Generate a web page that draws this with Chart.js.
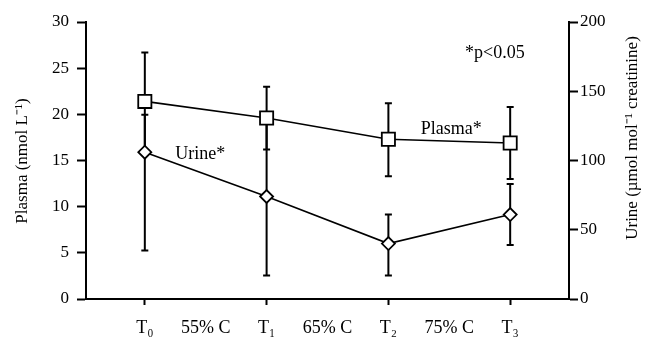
<!DOCTYPE html>
<html>
<head>
<meta charset="utf-8">
<script src="https://cdn.jsdelivr.net/npm/chart.js@4"></script>
<style>
  body { margin: 0; background: #fff; }
  canvas { display: block; }
</style>
</head>
<body>
<canvas id="chart" width="654" height="341"></canvas>
<script>
// valeurs
const timePoints = [0, 1, 2, 3];
const xTickLabels = ["T₀", "55% C", "T₁", "65% C", "T₂", "75% C", "T₃"];

const plasma = [21.4, 19.6, 17.3, 16.9];
const plasmaUpper = [26.7, 23.0, 21.2, 20.8];
const plasmaLower = [16.1, 16.2, 13.3, 13.0];

const urine = [106, 74, 40, 61];
const urineUpper = [133, 131, 61, 83];
const urineLower = [35, 17, 17, 39];

const serif = "'Liberation Serif', 'Times New Roman', serif";

const errorBars = {
  id: "errorBars",
  beforeDatasetsDraw(chart) {
    const ctx = chart.ctx;
    const x = chart.scales.x;
    const sets = [
      { axis: chart.scales.y, hi: plasmaUpper, lo: plasmaLower },
      { axis: chart.scales.y1, hi: urineUpper, lo: urineLower },
    ];
    ctx.save();
    ctx.strokeStyle = "#000";
    ctx.lineWidth = 2;
    sets.forEach((s) => {
      timePoints.forEach((t, i) => {
        const px = x.getPixelForValue(t);
        const top = s.axis.getPixelForValue(s.hi[i]);
        const bot = s.axis.getPixelForValue(s.lo[i]);
        ctx.beginPath();
        ctx.moveTo(px, top);
        ctx.lineTo(px, bot);
        ctx.moveTo(px - 3.5, top);
        ctx.lineTo(px + 3.5, top);
        ctx.moveTo(px - 3.5, bot);
        ctx.lineTo(px + 3.5, bot);
        ctx.stroke();
      });
    });
    ctx.restore();
  },
};

const textLayer = {
  id: "textLayer",
  afterDraw(chart) {
    const ctx = chart.ctx;
    const { x, y, y1 } = chart.scales;
    ctx.save();
    ctx.fillStyle = "#000";
    ctx.textBaseline = "middle";

    // titres des axes
    ctx.font = "17px " + serif;
    ctx.textAlign = "center";
    ctx.save();
    ctx.translate(23, 161);
    ctx.rotate(-Math.PI / 2);
    ctx.fillText("Plasma (nmol L⁻¹)", 0, 0);
    ctx.restore();
    ctx.save();
    ctx.translate(633, 138);
    ctx.rotate(-Math.PI / 2);
    ctx.fillText("Urine (µmol mol⁻¹ creatinine)", 0, 0);
    ctx.restore();

    // annotations
    ctx.font = "18px " + serif;
    ctx.textAlign = "left";
    ctx.fillText("Urine*", x.getPixelForValue(0.25), y1.getPixelForValue(104.7));
    ctx.fillText("Plasma*", x.getPixelForValue(2.265), y.getPixelForValue(18.4));
    ctx.fillText("*p<0.05", x.getPixelForValue(2.63), y.getPixelForValue(26.6));
    ctx.restore();
  },
};

new Chart(document.getElementById("chart"), {
  type: "line",
  data: {
    datasets: [
      {
        label: "Plasma",
        data: timePoints.map((t, i) => ({ x: t, y: plasma[i] })),
        yAxisID: "y",
        borderColor: "#000",
        borderWidth: 1.6,
        pointStyle: "rect",
        pointRadius: 9.3,
        pointBackgroundColor: "#fff",
        pointBorderColor: "#000",
        pointBorderWidth: 1.8,
      },
      {
        label: "Urine",
        data: timePoints.map((t, i) => ({ x: t, y: urine[i] })),
        yAxisID: "y1",
        borderColor: "#000",
        borderWidth: 1.6,
        pointStyle: "rectRot",
        pointRadius: 6.5,
        pointBackgroundColor: "#fff",
        pointBorderColor: "#000",
        pointBorderWidth: 1.8,
      },
    ],
  },
  plugins: [errorBars, textLayer],
  options: {
    responsive: false,
    devicePixelRatio: 1,
    animation: false,
    layout: { padding: { top: 22, left: 0, right: 0, bottom: 0 } },
    plugins: {
      legend: { display: false },
      tooltip: { enabled: false },
    },
    scales: {
      x: {
        type: "linear",
        min: -0.483,
        max: 3.483,
        afterBuildTicks: (scale) => {
          scale.ticks = xTickLabels.map((_, i) => ({ value: i / 2 }));
        },
        afterFit: (scale) => {
          scale.height = 42;
          scale.paddingLeft = 0;
          scale.paddingRight = 0;
        },
        ticks: {
          autoSkip: false,
          maxRotation: 0,
          padding: 12,
          color: "#000",
          font: { family: serif, size: 18 },
          callback: (v) => xTickLabels[Math.round(v * 2)],
        },
        grid: {
          drawOnChartArea: false,
          tickLength: 6,
          tickWidth: 2,
          tickColor: (c) =>
            c.tick && Number.isInteger(c.tick.value) ? "#000" : "rgba(0,0,0,0)",
        },
        border: { color: "#000", width: 2 },
      },
      y: {
        position: "left",
        min: 0,
        max: 30,
        afterFit: (scale) => {
          scale.width = 86;
          scale.paddingTop = 0;
          scale.paddingBottom = 0;
        },
        ticks: {
          stepSize: 5,
          padding: 8,
          color: "#000",
          font: { family: serif, size: 17 },
        },
        grid: {
          drawOnChartArea: false,
          tickLength: 9,
          tickWidth: 2,
          tickColor: "#000",
        },
        border: { color: "#000", width: 2 },
      },
      y1: {
        position: "right",
        min: 0,
        max: 200,
        afterFit: (scale) => {
          scale.width = 85;
          scale.paddingTop = 0;
          scale.paddingBottom = 0;
        },
        ticks: {
          stepSize: 50,
          padding: 2,
          color: "#000",
          font: { family: serif, size: 17 },
        },
        grid: {
          drawOnChartArea: false,
          tickLength: 9,
          tickWidth: 2,
          tickColor: "#000",
        },
        border: { color: "#000", width: 2 },
      },
    },
  },
});
</script>
</body>
</html>
